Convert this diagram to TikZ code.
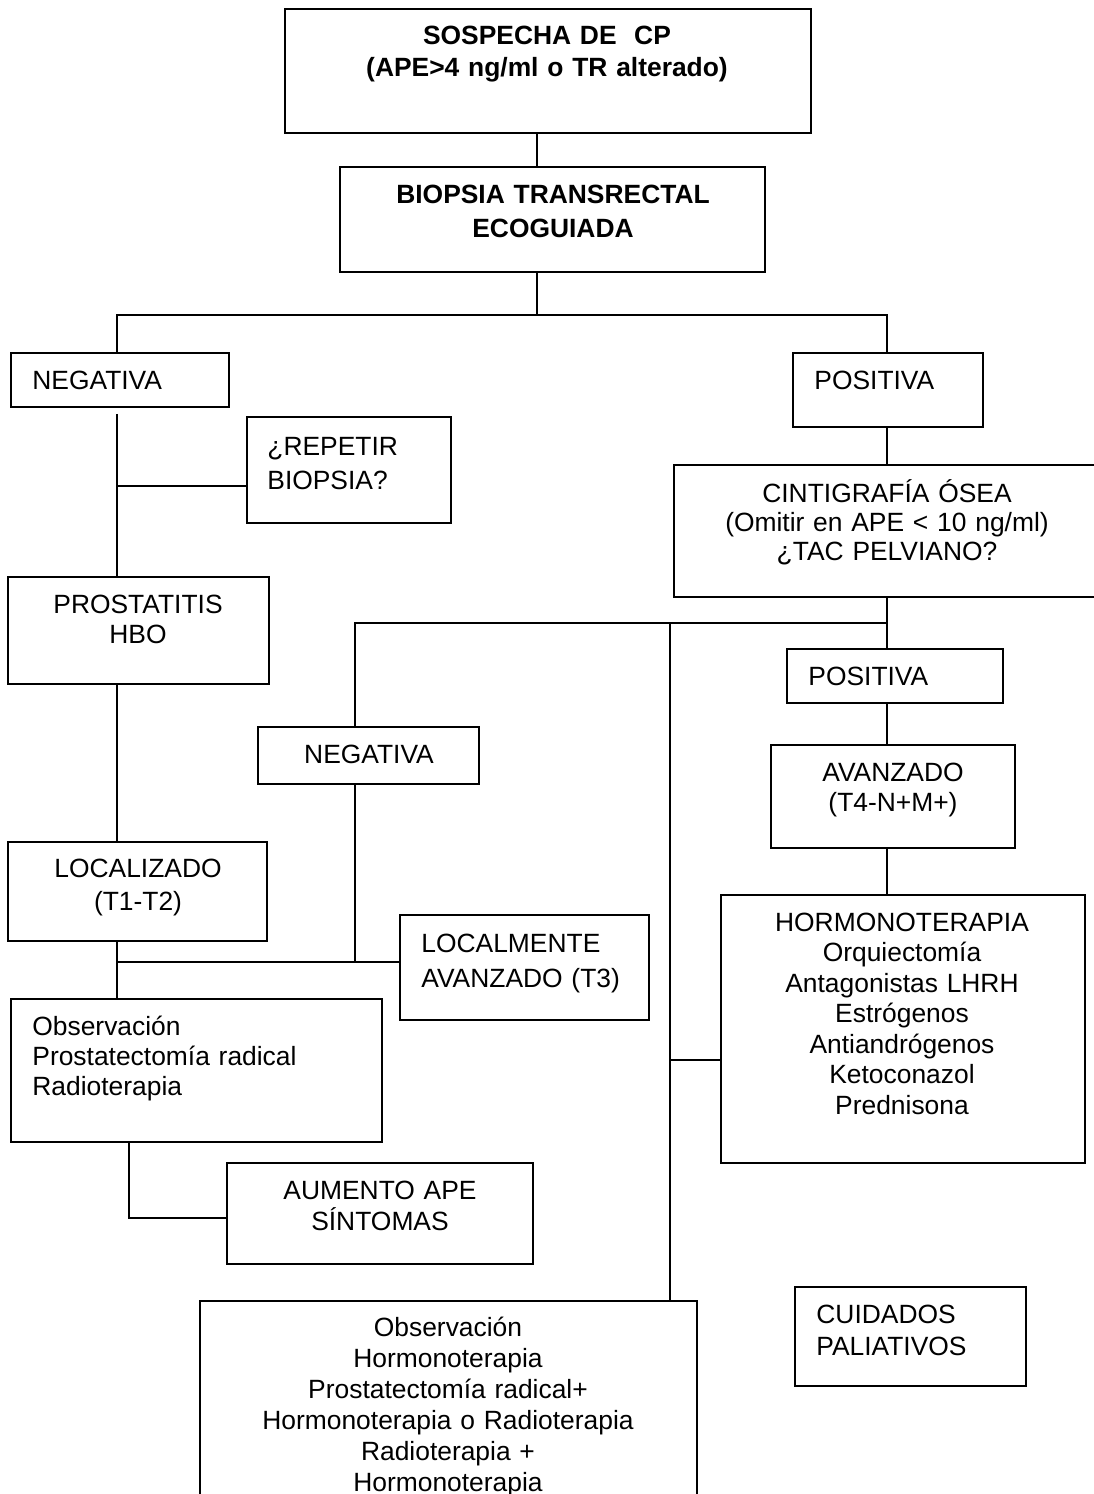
\documentclass[tikz,border=0pt]{standalone}
\usepackage{fontspec}
\setmainfont{Liberation Sans}
\usetikzlibrary{positioning,fit,calc}

\begin{document}
\begin{tikzpicture}[x=0.5pt,y=-0.5pt,
    caja/.style={draw, line width=0.8pt, inner sep=0pt, fit={#1}},
    txt/.style={inner sep=0pt, text width=250pt, align=center, anchor=base,
      font=\fontsize{13.2}{15.25}\selectfont},
    txtl/.style={txt, align=left, anchor=base west},
    linea/.style={line width=0.8pt}]
  \useasboundingbox (0,0) rectangle (1093,1494);

  \node[caja={(285,9) (811,133)}] (sospecha) {};
  \node[txt, font=\fontsize{13.2}{16}\selectfont\bfseries] (sospecha-t) at (547,44)
    {SOSPECHA DE\ \ CP\\(APE>4 ng/ml o TR alterado)};
  \node[caja={(340,167) (765,272)}] (biopsia) {};
  \node[txt, font=\fontsize{13.2}{17}\selectfont\bfseries] (biopsia-t) at (553,203)
    {BIOPSIA TRANSRECTAL\\ECOGUIADA};

  \node[caja={(11,353) (229,407)}] (neg1) {};
  \node[txtl] (neg1-t) at (32,389) {NEGATIVA};
  \node[caja={(793,353) (983,427)}] (pos1) {};
  \node[txtl] (pos1-t) at (814,389) {POSITIVA};
  \node[caja={(247,417) (451,523)}] (repetir) {};
  \node[txtl, font=\fontsize{13.2}{17}\selectfont] (repetir-t) at (267,455) {¿REPETIR\\BIOPSIA?};
  \node[caja={(674,465) (1100,597)}] (cinti) {};
  \node[txt, font=\fontsize{13.2}{14.6}\selectfont] (cinti-t) at (887,502)
    {CINTIGRAFÍA ÓSEA\\(Omitir en APE < 10 ng/ml)\\¿TAC PELVIANO?};
  \node[caja={(8,577) (269,684)}] (prost) {};
  \node[txt] (prost-t) at (138,613) {PROSTATITIS\\HBO};

  \node[caja={(787,649) (1003,703)}] (pos2) {};
  \node[txtl] (pos2-t) at (808,685) {POSITIVA};
  \node[caja={(258,727) (479,784)}] (neg2) {};
  \node[txt] (neg2-t) at (369,763) {NEGATIVA};
  \node[caja={(771,745) (1015,848)}] (avanz) {};
  \node[txt] (avanz-t) at (893,781) {AVANZADO\\(T4-N+M+)};
  \node[caja={(8,842) (267,941)}] (local) {};
  \node[txt, font=\fontsize{13.2}{16.5}\selectfont] (local-t) at (138,877) {LOCALIZADO\\(T1-T2)};
  \node[caja={(721,895) (1085,1163)}] (hormono) {};
  \node[txt] (hormono-t) at (902,931)
    {HORMONOTERAPIA\\Orquiectomía\\Antagonistas LHRH\\Estrógenos\\Antiandrógenos\\Ketoconazol\\Prednisona};
  \node[caja={(400,915) (649,1020)}] (localm) {};
  \node[txtl, font=\fontsize{13.2}{17.5}\selectfont] (localm-t) at (421,952) {LOCALMENTE\\AVANZADO (T3)};
  \node[caja={(11,999) (382,1142)}] (obs) {};
  \node[txtl, font=\fontsize{13.2}{15}\selectfont] (obs-t) at (32,1035)
    {Observación\\Prostatectomía radical\\Radioterapia};
  \node[caja={(227,1163) (533,1264)}] (aumento) {};
  \node[txt, font=\fontsize{13.2}{15.5}\selectfont] (aumento-t) at (380,1199) {AUMENTO APE\\SÍNTOMAS};
  \node[caja={(795,1287) (1026,1386)}] (cuidados) {};
  \node[txtl, font=\fontsize{13.2}{16}\selectfont] (cuidados-t) at (816,1323) {CUIDADOS\\PALIATIVOS};
  \node[caja={(200,1301) (697,1510)}] (trat) {};
  \node[txt, font=\fontsize{13.2}{15.5}\selectfont] (trat-t) at (448,1336)
    {Observación\\Hormonoterapia\\Prostatectomía radical+\\Hormonoterapia o Radioterapia\\Radioterapia +\\Hormonoterapia};

  \coordinate (c1) at (537,315);
  \coordinate (c1l) at (117,315);
  \coordinate (c1r) at (887,315);
  \coordinate (crep) at (117,486);
  \coordinate (c2) at (887,623);
  \coordinate (c2l) at (355,623);
  \coordinate (c2m) at (670,623);
  \coordinate (chor) at (670,1060);
  \coordinate (cloc) at (117,962);
  \coordinate (cneg) at (355,962);
  \coordinate (caum) at (129,1218);

  \draw[linea] (sospecha.south -| c1) -- (biopsia.north -| c1);
  \draw[linea] (biopsia.south -| c1) -- (c1);
  \draw[linea] (neg1.north -| c1l) -- (c1l) -- (c1r) -- (pos1.north -| c1r);
  \draw[linea] ($(neg1.south -| c1l)+(0,6)$) -- (prost.north -| c1l);
  \draw[linea] (crep) -- (crep -| repetir.west);
  \draw[linea] (pos1.south -| c1r) -- (cinti.north -| c1r);
  \draw[linea] (cinti.south -| c2) -- (pos2.north -| c2);
  \draw[linea] (neg2.north -| c2l) -- (c2l) -- (c2);
  \draw[linea] (pos2.south -| c2) -- (avanz.north -| c2);
  \draw[linea] (avanz.south -| c2) -- (hormono.north -| c2);
  \draw[linea] (c2m) -- (trat.north -| c2m);
  \draw[linea] (chor) -- (chor -| hormono.west);
  \draw[linea] (prost.south -| c1l) -- (local.north -| c1l);
  \draw[linea] (local.south -| c1l) -- (obs.north -| c1l);
  \draw[linea] (cloc) -- (cloc -| localm.west);
  \draw[linea] (neg2.south -| cneg) -- (cneg);
  \draw[linea] (obs.south -| caum) -- (caum) -- (caum -| aumento.west);
\end{tikzpicture}
\end{document}
